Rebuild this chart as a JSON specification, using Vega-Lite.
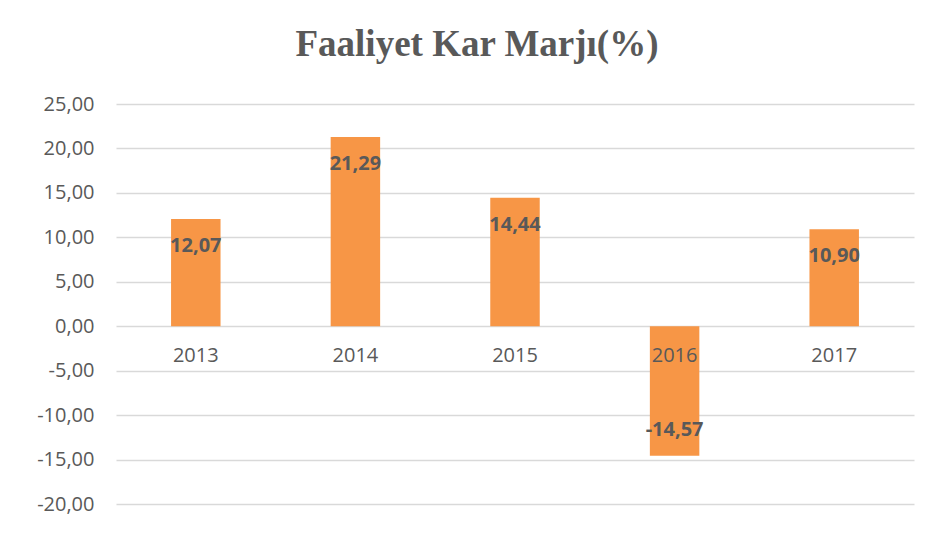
{
  "$schema": "https://vega.github.io/schema/vega-lite/v6.json",
  "autosize": "none",
  "width": 798,
  "height": 400,
  "padding": {"left": 116, "top": 104, "right": 35, "bottom": 29},
  "background": "white",
  "config": {
    "locale": {"number": {"decimal": ",", "thousands": ".", "grouping": [3], "currency": ["", ""], "minus": "-"}},
    "view": {"stroke": null},
    "font": "Open Sans"
  },
  "title": {
    "text": "Faaliyet Kar Marjı(%)",
    "font": "Liberation Serif",
    "fontSize": 37,
    "fontWeight": "bold",
    "color": "#595959",
    "anchor": "middle",
    "frame": "group",
    "dx": -38,
    "offset": 30
  },
  "data": {
    "values": [
      {"year": "2013", "value": 12.07},
      {"year": "2014", "value": 21.29},
      {"year": "2015", "value": 14.44},
      {"year": "2016", "value": -14.57},
      {"year": "2017", "value": 10.90}
    ]
  },
  "encoding": {
    "x": {
      "field": "year",
      "type": "ordinal",
      "axis": null,
      "scale": {"paddingInner": 0.69, "paddingOuter": 0.345}
    }
  },
  "layer": [
    {
      "mark": {"type": "bar", "color": "#F79646"},
      "encoding": {
        "y": {
          "field": "value",
          "type": "quantitative",
          "scale": {"domain": [-20, 25], "nice": false, "zero": false},
          "axis": {
            "title": null,
            "values": [-20, -15, -10, -5, 0, 5, 10, 15, 20, 25],
            "format": ".2f",
            "domain": false,
            "ticks": false,
            "labelPadding": 22,
            "labelFontSize": 20,
            "labelColor": "#595959",
            "labelFont": "Open Sans",
            "gridColor": "#D9D9D9",
            "gridWidth": 1.6
          }
        }
      }
    },
    {
      "transform": [{"filter": "datum.value >= 0"}],
      "mark": {"type": "text", "baseline": "middle", "dy": 27, "fontSize": 20, "fontWeight": "bold", "color": "#595959", "font": "Open Sans"},
      "encoding": {
        "y": {"field": "value", "type": "quantitative"},
        "text": {"field": "value", "type": "quantitative", "format": ".2f"}
      }
    },
    {
      "transform": [{"filter": "datum.value < 0"}],
      "mark": {"type": "text", "baseline": "middle", "dy": -26, "fontSize": 20, "fontWeight": "bold", "color": "#595959", "font": "Open Sans"},
      "encoding": {
        "y": {"field": "value", "type": "quantitative"},
        "text": {"field": "value", "type": "quantitative", "format": ".2f"}
      }
    },
    {
      "mark": {"type": "text", "baseline": "middle", "dy": 30, "fontSize": 20, "color": "#595959", "font": "Open Sans"},
      "encoding": {
        "y": {"datum": 0},
        "text": {"field": "year", "type": "nominal"}
      }
    }
  ]
}
